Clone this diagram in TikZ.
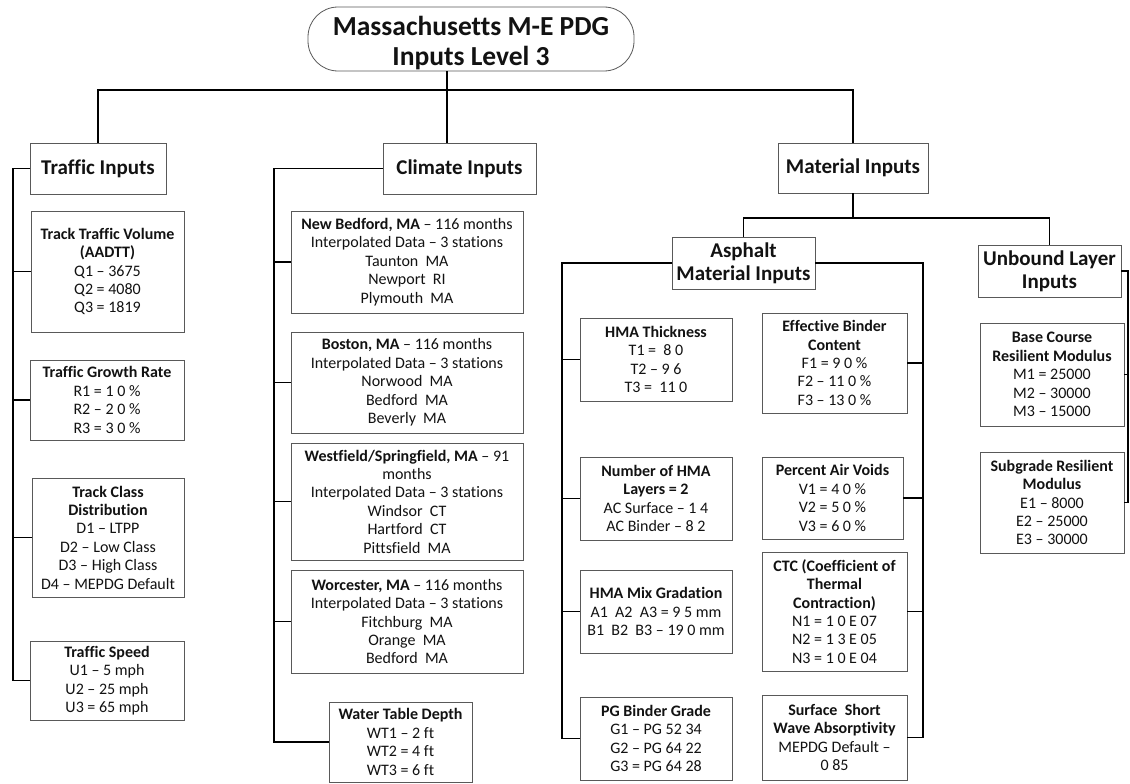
\documentclass[tikz,border=0pt]{standalone}
\usepackage{fontspec}
\setmainfont{Carlito}[Ligatures=NoCommon]
\newcommand{\bodyfont}{\fontsize{16}{18.4}\selectfont}
\newcommand{\headfont}{\fontsize{21}{23.4}\selectfont\bfseries}
\newcommand{\titlefont}{\fontsize{27.5}{30.5}\selectfont\bfseries}
\definecolor{boxgray}{gray}{0.35}
\definecolor{ink}{gray}{0.07}
\tikzset{
  leaf/.style={draw=boxgray, line width=0.8pt, align=center, inner sep=0pt,
    text=ink, font=\bodyfont},
  head/.style={leaf, font=\headfont},
  wire/.style={line width=1.8pt, draw=black},
}
\begin{document}
\begin{tikzpicture}[x=1pt,y=-1pt]
\fill[white] (0,0) rectangle (1130,784);
\useasboundingbox (0,0) rectangle (1130,784);

% title
\node[draw=boxgray, line width=0.8pt, rounded corners=30pt, align=center,
  inner sep=0pt, text=ink, font=\titlefont, minimum width=326, minimum height=64]
  (title) at (471,39) {\rule{0pt}{27pt}Massachusetts M-E PDG\\Inputs Level 3};

% top-level groups
\node[head, minimum width=136, minimum height=51] (traffic) at (98,168.5) {Traffic Inputs};
\node[head, minimum width=153, minimum height=51] (climate) at (459.5,168.5) {Climate Inputs};
\node[head, minimum width=150, minimum height=50] (material) at (853,168) {Material Inputs};

% traffic inputs
\node[leaf, minimum width=153, minimum height=121] (volume) at (107.5,271.5)
  {\textbf{Track Traffic Volume}\\\textbf{(AADTT)}\\Q1 – 3675\\Q2 = 4080\\Q3 = 1819};
\node[leaf, minimum width=154, minimum height=80] (growth) at (107,400)
  {\textbf{Traffic Growth Rate}\\R1 = 1 0 \%\\R2 – 2 0 \%\\R3 = 3 0 \%};
\node[leaf, minimum width=152, minimum height=119] (trclass) at (108,537.5)
  {\textbf{Track Class}\\\textbf{Distribution}\\D1 – LTPP\\D2 – Low Class\\D3 – High Class\\D4 – MEPDG Default};
\node[leaf, minimum width=154, minimum height=79] (speed) at (107,680.5)
  {\textbf{Traffic Speed}\\U1 – 5 mph\\U2 – 25 mph\\U3 = 65 mph};

% climate inputs
\node[leaf, minimum width=232, minimum height=102] (newbed) at (407,262)
  {\textbf{New Bedford, MA} – 116 months\\Interpolated Data – 3 stations\\Taunton\ \ MA\\Newport\ \ RI\\Plymouth\ \ MA};
\node[leaf, minimum width=232, minimum height=101] (boston) at (407,382.5)
  {\textbf{Boston, MA} – 116 months\\Interpolated Data – 3 stations\\Norwood\ \ MA\\Bedford\ \ MA\\Beverly\ \ MA};
\node[leaf, minimum width=232, minimum height=117] (westf) at (407,501.5)
  {\textbf{Westfield/Springfield, MA} – 91\\months\\Interpolated Data – 3 stations\\Windsor\ \ CT\\Hartford\ \ CT\\Pittsfield\ \ MA};
\node[leaf, minimum width=232, minimum height=103] (worc) at (407,621.5)
  {\textbf{Worcester, MA} – 116 months\\Interpolated Data – 3 stations\\Fitchburg\ \ MA\\Orange\ \ MA\\Bedford\ \ MA};
\node[leaf, minimum width=143, minimum height=80] (water) at (400.5,742)
  {\textbf{Water Table Depth}\\WT1 – 2 ft\\WT2 = 4 ft\\WT3 = 6 ft};

% material inputs
\node[head, minimum width=143, minimum height=52] (asphalt) at (743.5,263) {Asphalt\\Material Inputs};
\node[head, minimum width=143, minimum height=52] (unbound) at (1049.5,271) {Unbound Layer\\Inputs};

\node[leaf, minimum width=152, minimum height=83] (thick) at (656,359.5)
  {\textbf{HMA Thickness}\\T1 =\ \ 8 0\\T2 – 9 6\\T3 =\ \ 11 0};
\node[leaf, minimum width=152, minimum height=83] (layers) at (656,498.5)
  {\textbf{Number of HMA}\\\textbf{Layers = 2}\\AC Surface – 1 4\\AC Binder – 8 2};
\node[leaf, minimum width=152, minimum height=83] (mix) at (656,611.5)
  {\textbf{HMA Mix Gradation}\\A1\ \ A2\ \ A3 = 9 5 mm\\B1\ \ B2\ \ B3 – 19 0 mm};
\node[leaf, minimum width=152, minimum height=83] (pg) at (656,738.5)
  {\textbf{PG Binder Grade}\\G1 – PG 52 34\\G2 – PG 64 22\\G3 = PG 64 28};

\node[leaf, minimum width=145, minimum height=100] (binder) at (834.5,363)
  {\textbf{Effective Binder}\\\textbf{Content}\\F1 = 9 0 \%\\F2 – 11 0 \%\\F3 – 13 0 \%};
\node[leaf, minimum width=141, minimum height=82] (voids) at (832.5,498)
  {\textbf{Percent Air Voids}\\V1 = 4 0 \%\\V2 = 5 0 \%\\V3 = 6 0 \%};
\node[leaf, minimum width=145, minimum height=119] (ctc) at (834.5,611.5)
  {\textbf{CTC (Coefficient of}\\\textbf{Thermal}\\\textbf{Contraction)}\\N1 = 1 0 E 07\\N2 = 1 3 E 05\\N3 = 1 0 E 04};
\node[leaf, minimum width=145, minimum height=85] (absorp) at (834.5,737.5)
  {\textbf{Surface\ \ Short}\\\textbf{Wave Absorptivity}\\MEPDG Default –\\0 85};

\node[leaf, minimum width=144, minimum height=103] (basec) at (1052,374.5)
  {\textbf{Base Course}\\\textbf{Resilient Modulus}\\M1 = 25000\\M2 – 30000\\M3 – 15000};
\node[leaf, minimum width=144, minimum height=101] (subg) at (1052,502.5)
  {\textbf{Subgrade Resilient}\\\textbf{Modulus}\\E1 – 8000\\E2 – 25000\\E3 – 30000};

% junction points and spines
\coordinate (topbus) at (447,90);
\coordinate (matbus) at (853,218);
\coordinate (tspine) at (13,0);
\coordinate (cspine) at (274,0);
\coordinate (alspine) at (562,0);
\coordinate (arspine) at (923,0);
\coordinate (uspine) at (1128,0);

% top level
\draw[wire] (title.south -| topbus) -- (climate.north -| topbus);
\draw[wire] (traffic.north) |- (topbus) -| (material.north);

% traffic tree
\draw[wire] (traffic.west) -| (tspine |- speed.west) -- (speed.west);
\foreach \n in {volume,growth,trclass}
  \draw[wire] (tspine |- \n.west) -- (\n.west);

% climate tree
\draw[wire] (climate.west) -| (cspine |- water.west) -- (water.west);
\foreach \n in {newbed,boston,westf,worc}
  \draw[wire] (cspine |- \n.west) -- (\n.west);

% material tree
\draw[wire] (material.south) -- (matbus);
\draw[wire] (asphalt.north) |- (matbus) -| (unbound.north);

\draw[wire] (asphalt.west) -| (alspine |- pg.west) -- (pg.west);
\foreach \n in {thick,layers,mix}
  \draw[wire] (alspine |- \n.west) -- (\n.west);

\draw[wire] (asphalt.east) -| (arspine |- absorp.east) -- (absorp.east);
\foreach \n in {binder,voids,ctc}
  \draw[wire] (arspine |- \n.east) -- (\n.east);

\draw[wire] (unbound.east) -| (uspine |- subg.east) -- (subg.east);
\draw[wire] (uspine |- basec.east) -- (basec.east);
\end{tikzpicture}
\end{document}
